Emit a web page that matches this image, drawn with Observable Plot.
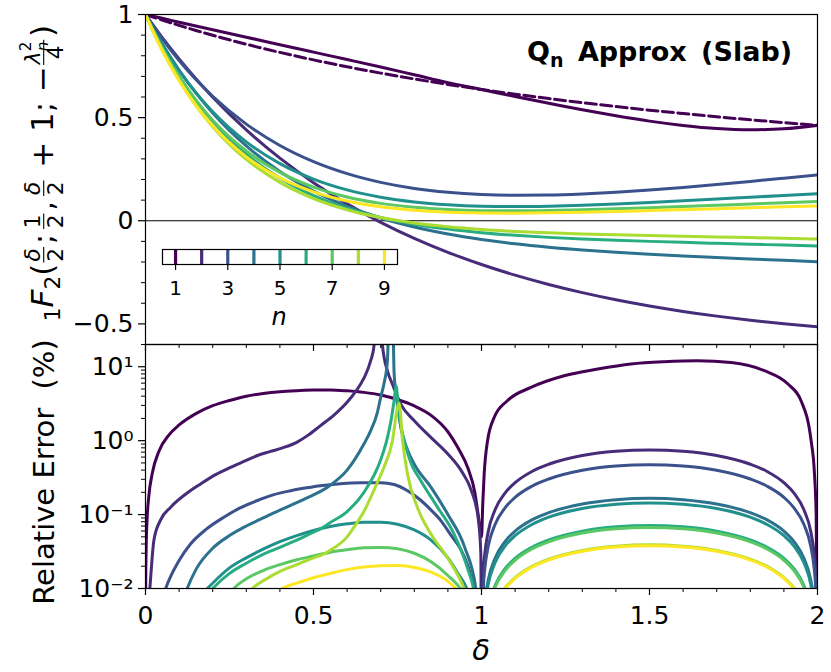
<!DOCTYPE html>
<html><head><meta charset="utf-8">
<script src="https://cdn.jsdelivr.net/npm/d3@7"></script>
<script src="https://cdn.jsdelivr.net/npm/@observablehq/plot@0.6"></script>
<style>
body{margin:0;background:#fff;}
#wrap{position:relative;width:831px;height:672px;font-family:"DejaVu Sans",sans-serif;}
#wrap svg{position:absolute;overflow:visible;}
</style></head><body><div id="wrap"></div><script>
// ---------------- data ----------------
const nValues = [1,2,3,4,5,6,7,8,9];
const viridis9 = ["#440154","#472c7a","#3b518b","#2c718e","#21908d","#27ad81","#5cc863","#aadc32","#fde725"];

// top panel: delta grid and curve values
const deltaTop = [0,0.02,0.05,0.1,0.15,0.2,0.3,0.4,0.5,0.6,0.7,0.8,0.9,1.0,1.1,1.2,1.3,1.4,1.5,1.6,1.7,1.8,1.9,2.0];
const exact1  = [1,0.989,0.9729,0.9471,0.9226,0.8993,0.8558,0.8162,0.7799,0.7466,0.7158,0.6874,0.6611,0.6366,0.6138,0.5925,0.5726,0.5540,0.5361,0.5199,0.5044,0.4897,0.4758,0.4627];
const approx1 = [1,0.9926,0.9815,0.9625,0.9440,0.9260,0.8900,0.8537,0.8177,0.7818,0.7455,0.7077,0.6698,0.6366,0.602,0.570,0.538,0.509,0.483,0.462,0.447,0.441,0.446,0.4627];
const approx2 = [1,0.9541,0.8879,0.7843,0.6883,0.5994,0.4405,0.3034,0.1848,0.0819,-0.0075,-0.0852,-0.1530,-0.2122,-0.2639,-0.3091,-0.3485,-0.3831,-0.4132,-0.4395,-0.4624,-0.4823,-0.4996,-0.5145];
const approx3 = [1,0.9509,0.8817,0.7771,0.6847,0.6032,0.4685,0.3650,0.2866,0.2283,0.1861,0.1568,0.1380,0.1273,0.1233,0.1244,0.1297,0.1381,0.1491,0.1617,0.1758,0.1907,0.2063,0.2222];
const approx4 = [1,0.9403,0.8564,0.7304,0.6197,0.5226,0.3625,0.2390,0.1438,0.0703,0.0135,-0.0303,-0.0644,-0.0909,-0.1118,-0.1284,-0.1419,-0.1530,-0.1625,-0.1708,-0.1783,-0.1852,-0.1919,-0.1984];
const approx5 = [1,0.9388,0.8536,0.7280,0.6203,0.5282,0.3824,0.2770,0.2019,0.1495,0.1140,0.0911,0.0775,0.0707,0.0690,0.0708,0.0751,0.0813,0.0886,0.0966,0.1051,0.1139,0.1227,0.1315];
const approx6 = [1,0.9325,0.8388,0.7009,0.5831,0.4824,0.3229,0.2066,0.1219,0.0604,0.0157,-0.0168,-0.0405,-0.0579,-0.0708,-0.0806,-0.0883,-0.0946,-0.1000,-0.1048,-0.1093,-0.1137,-0.1180,-0.1224];
const approx7 = [1,0.9315,0.8371,0.6998,0.5844,0.4874,0.3382,0.2343,0.1631,0.1153,0.0842,0.0649,0.0540,0.0490,0.0480,0.0497,0.0532,0.0579,0.0633,0.0691,0.0751,0.0812,0.0872,0.0931];
const approx8 = [1,0.9270,0.8266,0.6809,0.5585,0.4557,0.2972,0.1859,0.1079,0.0535,0.0155,-0.0110,-0.0294,-0.0424,-0.0518,-0.0586,-0.0639,-0.0682,-0.0719,-0.0753,-0.0786,-0.0818,-0.0851,-0.0885];
const approx9 = [1,0.9263,0.8254,0.6803,0.5599,0.4602,0.3097,0.2079,0.1400,0.0956,0.0676,0.0507,0.0415,0.0374,0.0368,0.0383,0.0413,0.0451,0.0494,0.0539,0.0585,0.0631,0.0676,0.0721];

// bottom panel: relative error (%) as [delta, value]
const err1 = [[0,0.001],[0.0005,0.009],[0.002,0.036],[0.005,0.09],[0.01,0.18],[0.02,0.36],[0.04,0.72],[0.07,1.2],[0.1,1.63],[0.15,2.32],[0.2,2.97],[0.25,3.5],[0.3,4.0],[0.35,4.35],[0.4,4.6],[0.45,4.75],[0.5,4.85],[0.55,4.85],[0.6,4.72],[0.65,4.5],[0.7,4.15],[0.75,3.6],[0.8,2.95],[0.85,2.2],[0.9,1.32],[0.93,0.8],[0.96,0.42],[0.98,0.2],[0.99,0.1],[1.0,0.05],[1.004,0.15],[1.008,0.355],[1.018,1.0],[1.038,2.07],[1.077,3.47],[1.147,5.25],[1.246,7.56],[1.346,9.3],[1.445,10.9],[1.544,11.7],[1.643,12.05],[1.743,11.4],[1.842,8.83],[1.912,5.83],[1.951,3.47],[1.981,1.0],[1.991,0.355],[1.996,0.1],[2.0,0.001]];
const err2 = [[0,0.001],[0.008,0.005],[0.013,0.01],[0.025,0.045],[0.045,0.085],[0.075,0.126],[0.12,0.19],[0.164,0.26],[0.21,0.35],[0.253,0.435],[0.3,0.54],[0.333,0.63],[0.37,0.71],[0.412,0.81],[0.45,0.95],[0.482,1.17],[0.521,1.6],[0.56,2.2],[0.6,3.3],[0.625,4.6],[0.65,7],[0.67,12],[0.68,19],[0.692,1000],[0.705,20],[0.72,8.8],[0.735,5.8],[0.76,3.1],[0.8,1.86],[0.85,1.1],[0.9,0.66],[0.94,0.39],[0.97,0.21],[0.99,0.09],[0.998,0.03],[1.0,0.001]];
const err3 = [[0,0.001],[0.04,0.005],[0.06,0.01],[0.1,0.024],[0.134,0.04],[0.18,0.063],[0.233,0.092],[0.28,0.122],[0.333,0.155],[0.38,0.185],[0.432,0.21],[0.48,0.23],[0.521,0.246],[0.58,0.262],[0.64,0.27],[0.7,0.27],[0.74,0.255],[0.78,0.21],[0.82,0.155],[0.85,0.115],[0.879,0.083],[0.91,0.052],[0.938,0.034],[0.96,0.02],[0.978,0.01],[0.99,0.005],[1.0,0.001]];
const err4 = [[0,0.001],[0.1,0.005],[0.124,0.01],[0.15,0.018],[0.2,0.035],[0.25,0.052],[0.3,0.07],[0.35,0.09],[0.4,0.115],[0.45,0.145],[0.5,0.185],[0.521,0.206],[0.55,0.25],[0.6,0.4],[0.621,0.54],[0.65,0.9],[0.67,1.36],[0.69,2.4],[0.7,3.85],[0.71,6],[0.72,12],[0.731,1000],[0.74,8],[0.745,4.7],[0.75,3.0],[0.76,1.5],[0.78,0.75],[0.8,0.48],[0.85,0.234],[0.9,0.1],[0.95,0.036],[0.983,0.01],[1.0,0.001]];
const err5 = [[0,0.001],[0.15,0.007],[0.184,0.01],[0.25,0.019],[0.3,0.026],[0.35,0.034],[0.4,0.043],[0.45,0.052],[0.5,0.061],[0.55,0.069],[0.6,0.075],[0.65,0.079],[0.7,0.079],[0.75,0.074],[0.8,0.062],[0.85,0.045],[0.9,0.026],[0.93,0.016],[0.96,0.009],[0.98,0.004],[1.0,0.001]];
const err6 = [[0,0.001],[0.17,0.007],[0.2,0.01],[0.25,0.016],[0.3,0.022],[0.35,0.029],[0.4,0.036],[0.45,0.045],[0.5,0.058],[0.521,0.064],[0.55,0.078],[0.6,0.11],[0.65,0.2],[0.7,0.55],[0.72,1.1],[0.73,1.8],[0.74,3.5],[0.746,5.5],[0.752,3.0],[0.76,1.6],[0.77,1.0],[0.79,0.5],[0.819,0.29],[0.869,0.126],[0.918,0.055],[0.958,0.019],[0.98,0.008],[1.0,0.001]];
const err7 = [[0,0.001],[0.24,0.007],[0.263,0.01],[0.3,0.0135],[0.35,0.0175],[0.4,0.021],[0.45,0.0245],[0.5,0.0275],[0.55,0.031],[0.6,0.0335],[0.65,0.0355],[0.7,0.036],[0.75,0.0345],[0.8,0.03],[0.85,0.023],[0.9,0.015],[0.94,0.0095],[0.97,0.005],[1.0,0.001]];
const err8 = [[0,0.001],[0.29,0.007],[0.318,0.01],[0.36,0.0135],[0.4,0.017],[0.45,0.021],[0.5,0.026],[0.521,0.028],[0.55,0.033],[0.6,0.05],[0.62,0.067],[0.65,0.11],[0.67,0.17],[0.69,0.27],[0.71,0.44],[0.735,1.0],[0.75,2.8],[0.755,3.2],[0.765,1.0],[0.78,0.35],[0.809,0.126],[0.849,0.055],[0.899,0.026],[0.948,0.01],[0.97,0.005],[1.0,0.001]];
const err9 = [[0,0.001],[0.38,0.008],[0.407,0.01],[0.45,0.0118],[0.5,0.014],[0.55,0.016],[0.6,0.018],[0.65,0.0195],[0.7,0.0203],[0.75,0.0204],[0.8,0.0192],[0.85,0.0166],[0.9,0.0125],[0.923,0.01],[0.95,0.007],[1.0,0.001]];

// 1 < delta <= 2 arches (n = 2..9)
const deltaArch = [1.005,1.01,1.02,1.04,1.07,1.1,1.15,1.2,1.3,1.4,1.5,1.6,1.7,1.8,1.85,1.9,1.93,1.96,1.98,1.99,1.995,2.0];
const arch2 = [0.0149,0.0297,0.0588,0.115,0.195,0.27,0.383,0.48,0.63,0.72,0.75,0.72,0.63,0.48,0.383,0.27,0.195,0.115,0.0588,0.0297,0.0149,0.001];
const arch3 = [0.0094,0.0188,0.0372,0.0728,0.123,0.171,0.242,0.303,0.398,0.455,0.474,0.455,0.398,0.303,0.242,0.171,0.123,0.0728,0.0372,0.0188,0.0094,0.001];
const arch4 = [0.0033,0.0066,0.013,0.0255,0.0432,0.0598,0.0847,0.106,0.139,0.159,0.166,0.159,0.139,0.106,0.0847,0.0598,0.0432,0.0255,0.013,0.0066,0.0033,0.001];
const arch5 = [0.0029,0.0057,0.0113,0.0221,0.0375,0.0518,0.0734,0.0922,0.121,0.138,0.144,0.138,0.121,0.0922,0.0734,0.0518,0.0375,0.0221,0.0113,0.0057,0.0029,0.001];
const arch6 = [0.0014,0.0028,0.0056,0.0109,0.0185,0.0256,0.0362,0.0454,0.0596,0.0682,0.071,0.0682,0.0596,0.0454,0.0362,0.0256,0.0185,0.0109,0.0056,0.0028,0.0014,0.001];
const arch7 = [0.0013,0.0027,0.0053,0.0103,0.0174,0.0241,0.0342,0.0429,0.0563,0.0643,0.067,0.0643,0.0563,0.0429,0.0342,0.0241,0.0174,0.0103,0.0053,0.0027,0.0013,0.001];
const arch8 = [0.0008,0.0015,0.0031,0.006,0.0102,0.014,0.0199,0.025,0.0328,0.0374,0.039,0.0374,0.0328,0.025,0.0199,0.014,0.0102,0.006,0.0031,0.0015,0.0008,0.0005];
const arch9 = [0.0008,0.0015,0.003,0.0058,0.0099,0.0137,0.0194,0.0243,0.0319,0.0365,0.038,0.0365,0.0319,0.0243,0.0194,0.0137,0.0099,0.0058,0.003,0.0015,0.0008,0.0005];

// ticks
const xMajor = [0,0.5,1,1.5,2];
const xMinor = [0.1,0.2,0.3,0.4,0.6,0.7,0.8,0.9,1.1,1.2,1.3,1.4,1.6,1.7,1.8,1.9];
const yTopMajor = [1,0.5,0,-0.5];
const yTopMinor = [0.9,0.8,0.7,0.6,0.4,0.3,0.2,0.1,-0.1,-0.2,-0.3,-0.4,-0.6];
const yLogMajor = [0.01,0.1,1,10];
const yLogLabels = ["10\u207b\u00b2","10\u207b\u00b9","10\u2070","10\u00b9"];
const yLogMinor = [0.02,0.03,0.04,0.05,0.06,0.07,0.08,0.09,0.2,0.3,0.4,0.5,0.6,0.7,0.8,0.9,2,3,4,5,6,7,8,9];
const legendTicks = [1,3,5,7,9];

// ---------------- build rows ----------------
const approxSeries = [approx1,approx2,approx3,approx4,approx5,approx6,approx7,approx8,approx9];
const topRows = approxSeries.flatMap((arr,i)=>arr.map((v,j)=>({n:i+1,d:deltaTop[j],v})));
const exactRows = exact1.map((v,j)=>({n:1,d:deltaTop[j],v}));
const leftParts = [err1,err2,err3,err4,err5,err6,err7,err8,err9];
const archParts = [null,arch2,arch3,arch4,arch5,arch6,arch7,arch8,arch9];
const errRows = [];
leftParts.forEach((pts,i)=>{
  pts.forEach(([d,e])=>errRows.push({n:i+1,d,e}));
  if (archParts[i]) deltaArch.forEach((d,j)=>errRows.push({n:i+1,d,e:archParts[i][j]}));
});

const colorScale = {type:"ordinal", domain:nValues, range:viridis9};
const baseStyle = {fontFamily:"DejaVu Sans, sans-serif", color:"black", background:"transparent", overflow:"visible"};
const fmt = d3.format("~g");
const LW = 3;

const wrapEl = document.getElementById("wrap");

// bottom panel (log relative error)
const botPlot = Plot.plot({
  width:831, height:328, marginTop:0, marginRight:14, marginBottom:84, marginLeft:145,
  style:baseStyle,
  x:{domain:[0,2]},
  y:{type:"log", domain:[0.01,20]},
  color:colorScale,
  marks:[
    Plot.line(errRows,{x:"d",y:"e",z:"n",stroke:"n",strokeWidth:LW,curve:"monotone-x",clip:true}),
    Plot.axisY({ticks:yLogMajor,tickSize:7,tickPadding:5,tickFormat:d=>yLogLabels[yLogMajor.indexOf(d)],fontSize:25,label:null,strokeWidth:1.2}),
    Plot.axisY({ticks:yLogMinor,tickSize:4,tickFormat:()=>"",label:null,strokeWidth:1}),
    Plot.axisX({ticks:xMajor,tickSize:7,tickPadding:11,tickFormat:fmt,fontSize:25,label:null,strokeWidth:1.2}),
    Plot.axisX({ticks:xMinor,tickSize:4,tickFormat:()=>"",label:null,strokeWidth:1}),
    Plot.frame({stroke:"black",strokeWidth:1.2})
  ]
});
botPlot.style.left="0px"; botPlot.style.top="344px"; botPlot.style.zIndex=1;
wrapEl.appendChild(botPlot);

// top panel
const topPlot = Plot.plot({
  width:831, height:344, marginTop:14, marginRight:14, marginBottom:0, marginLeft:145,
  style:baseStyle,
  x:{domain:[0,2]},
  y:{domain:[-0.6,1]},
  color:colorScale,
  marks:[
    Plot.ruleY([0],{stroke:"black",strokeWidth:1.2}),
    Plot.line(topRows.filter(r=>r.n===1),{x:"d",y:"v",stroke:"n",strokeWidth:LW,curve:"monotone-x",clip:true}),
    Plot.line(exactRows,{x:"d",y:"v",stroke:"n",strokeWidth:LW,strokeDasharray:"11,4.5",curve:"monotone-x",clip:true}),
    Plot.line(topRows.filter(r=>r.n>1),{x:"d",y:"v",z:"n",stroke:"n",strokeWidth:LW,curve:"monotone-x",clip:true}),
    Plot.axisY({ticks:yTopMajor,tickSize:7,tickPadding:5,tickFormat:fmt,fontSize:25,label:null,strokeWidth:1.2}),
    Plot.axisY({ticks:yTopMinor,tickSize:4,tickFormat:()=>"",label:null,strokeWidth:1}),
    Plot.axisX({ticks:xMajor,tickSize:7,tickFormat:()=>"",label:null,strokeWidth:1.2}),
    Plot.axisX({ticks:xMinor,tickSize:4,tickFormat:()=>"",label:null,strokeWidth:1}),
    Plot.frame({stroke:"black",strokeWidth:1.2})
  ]
});
topPlot.style.left="0px"; topPlot.style.top="0px"; topPlot.style.zIndex=2;
wrapEl.appendChild(topPlot);

// inset legend (n)
const legPlot = Plot.plot({
  width:255, height:90, marginTop:5, marginRight:10, marginBottom:70, marginLeft:10,
  style:baseStyle,
  x:{domain:[0.5,9.5]},
  y:{domain:[0,1], axis:null},
  color:colorScale,
  marks:[
    Plot.frame({fill:"white"}),
    Plot.ruleX(nValues,{x:d=>d,stroke:d=>d,strokeWidth:3.2}),
    Plot.axisX({ticks:legendTicks,tickSize:6,tickPadding:10,tickFormat:fmt,fontSize:20,label:null,strokeWidth:1.2}),
    Plot.frame({stroke:"black",strokeWidth:1.2})
  ]
});
legPlot.style.left="151.7px"; legPlot.style.top="244.3px"; legPlot.style.zIndex=3;
wrapEl.appendChild(legPlot);

// ---------------- annotations (text) ----------------
const ov = d3.select(wrapEl).append("svg").attr("width",831).attr("height",672)
  .style("left","0px").style("top","0px").style("z-index",4).style("pointer-events","none")
  .attr("font-family","DejaVu Sans, sans-serif");

// title
const titleEl = ov.append("text").attr("x",527).attr("y",61).attr("font-size",27).attr("font-weight","bold")
  .attr("word-spacing",5).style("white-space","pre");
titleEl.append("tspan").text("Q");
titleEl.append("tspan").attr("font-size",19).attr("dy",6).text("n");
titleEl.append("tspan").attr("dy",-6).text(" Approx (Slab)");

// legend label n
ov.append("text").attr("x",151.7+10+117.5).attr("y",325).attr("text-anchor","middle").attr("font-size",24).attr("font-style","italic").text("n");

// x label
ov.append("text").attr("x",481).attr("y",660).attr("text-anchor","middle").attr("font-size",29).attr("font-style","italic").text("δ");

// bottom y label
ov.append("text").attr("transform","translate(54,472) rotate(-90)").attr("text-anchor","middle").attr("font-size",29).style("white-space","pre").text("Relative Error  (%)");

// top y label: 1F2(δ/2; 1/2, δ/2+1; −λn²/4) with stacked fractions
(function(){
  const fs = 31, sm = fs*0.7;
  const g = ov.append("g");
  let x = 0;
  function plain(t, o={}) {
    const el = g.append("text").attr("x",x).attr("y",o.dy||0).attr("font-size",o.size||fs).style("white-space","pre");
    if (o.italic) el.attr("font-style","italic");
    el.text(t);
    x += el.node().getComputedTextLength() + (o.gap||0);
  }
  function frac(numParts, den) {
    const bar = -fs*0.30;
    const num = g.append("text").attr("font-size",sm).attr("y",bar - fs*0.12).style("white-space","pre");
    numParts.forEach(p=>{
      const ts = num.append("tspan").text(p.t);
      if (p.italic) ts.attr("font-style","italic");
      if (p.size) ts.attr("font-size",p.size);
      if (p.dy) ts.attr("dy",p.dy);
      if (p.back) ts.attr("dx",-p.back);
    });
    const dn = g.append("text").attr("font-size",sm).attr("y",bar + fs*0.12 + sm*0.73).text(den);
    const wn = num.node().getBBox().width, wd = dn.node().getComputedTextLength();
    const w = Math.max(wn,wd) + fs*0.12;
    num.attr("x", x + (w-wn)/2);
    dn.attr("x", x + (w-wd)/2);
    g.append("line").attr("x1",x+1).attr("x2",x+w-1).attr("y1",bar).attr("y2",bar).attr("stroke","black").attr("stroke-width",1.1);
    x += w + fs*0.06;
  }
  plain("1",{size:sm,dy:fs*0.22});
  plain("F",{italic:true});
  plain("2",{size:sm,dy:fs*0.22});
  plain("(");
  frac([{t:"δ",italic:true}],"2");
  plain(";",{gap:fs*0.12});
  frac([{t:"1"}],"2");
  plain(",",{gap:fs*0.12});
  frac([{t:"δ",italic:true}],"2");
  plain(" + 1; −");
  frac([{t:"λ",italic:true},{t:"2",size:sm*0.7,dy:-sm*0.4},{t:"n",size:sm*0.7,italic:true,dy:sm*0.75,back:sm*0.7*0.64}],"4");
  plain(")");
  g.attr("transform",`translate(53,173) rotate(-90) translate(${-x/2},0)`);
})();
</script></body></html>
